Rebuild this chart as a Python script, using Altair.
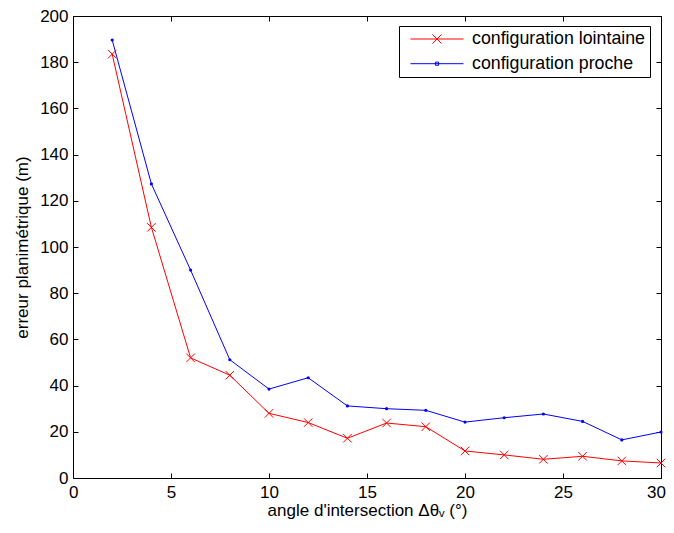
import altair as alt
import pandas as pd

# ---- data ----
angles = [2, 4, 6, 8, 10, 12, 14, 16, 18, 20, 22, 24, 26, 28, 30]
lointaine = [183.5, 108.5, 52.0, 44.5, 28.0, 24.0, 17.2, 23.8, 22.2, 11.7, 10.0, 8.1, 9.4, 7.4, 6.5]
proche = [189.6, 127.3, 90.0, 51.2, 38.5, 43.4, 31.2, 30.0, 29.3, 24.2, 26.1, 27.7, 24.5, 16.5, 19.9]
series_names = ["configuration lointaine", "configuration proche"]
series_colors = ["#ff0000", "#0000ff"]
x_ticks = [0, 5, 10, 15, 20, 25, 30]
y_ticks = [0, 20, 40, 60, 80, 100, 120, 140, 160, 180, 200]

rows = []
for a, v in zip(angles, lointaine):
    rows.append({"angle": a, "erreur": v, "serie": series_names[0]})
for a, v in zip(angles, proche):
    rows.append({"angle": a, "erreur": v, "serie": series_names[1]})
df = pd.DataFrame(rows)

FONT = "Liberation Sans"
FS = 17
CROSS = "M-1,-1L1,1M-1,1L1,-1"
LEG_CROSS = "M-1,0H1M-0.17,-0.17L0.17,0.17M-0.17,0.17L0.17,-0.17"
LEG_DOT = "M-1,0H1M-0.06,-0.06H0.06V0.06H-0.06Z"

xscale = alt.Scale(domain=[0, 30], nice=False, zero=False)
yscale = alt.Scale(domain=[0, 200], nice=False, zero=False)

ax_bottom = alt.Axis(orient="bottom", values=x_ticks, offset=-5, tickSize=5, domain=False,
                     grid=False, labelPadding=6, labelFlush=True, labelFlushOffset=4.5,
                     title="angle d'intersection Δθᵥ (°)", titlePadding=2)
ax_left = alt.Axis(orient="left", values=y_ticks, offset=-5, tickSize=5, domain=False,
                   grid=False, labelPadding=5, labelFlush=False,
                   title="erreur planimétrique (m)", titlePadding=8)
ax_top = alt.Axis(orient="top", values=x_ticks, offset=-5, tickSize=5, domain=False,
                  grid=False, labels=False, title=None)
ax_right = alt.Axis(orient="right", values=y_ticks, offset=-5, tickSize=5, domain=False,
                    grid=False, labels=False, title=None)

base = alt.Chart(df)
red = base.transform_filter(alt.datum.serie == series_names[0])
blue = base.transform_filter(alt.datum.serie == series_names[1])

red_line = red.mark_line(color=series_colors[0], strokeWidth=1).encode(
    x=alt.X("angle:Q", scale=xscale, axis=ax_bottom),
    y=alt.Y("erreur:Q", scale=yscale, axis=ax_left),
)
red_pts = red.mark_point(shape=CROSS, color=series_colors[0], size=72, strokeWidth=1,
                         filled=False, opacity=1).encode(
    x=alt.X("angle:Q", scale=xscale, axis=None),
    y=alt.Y("erreur:Q", scale=yscale, axis=None),
)
blue_line = blue.mark_line(color=series_colors[1], strokeWidth=1).encode(
    x=alt.X("angle:Q", scale=xscale, axis=ax_top),
    y=alt.Y("erreur:Q", scale=yscale, axis=ax_right),
)
blue_pts = blue.mark_point(shape="circle", color=series_colors[1], size=10,
                           filled=True, opacity=1).encode(
    x=alt.X("angle:Q", scale=xscale, axis=None),
    y=alt.Y("erreur:Q", scale=yscale, axis=None),
)

leg = dict(title=None, orient="none", legendX=326, legendY=10,
           strokeColor="black", fillColor="white",
           padding=4.5, rowPadding=5.7, clipHeight=17,
           symbolSize=2809, symbolStrokeWidth=1,
           symbolOffset=6.5, labelOffset=8, labelLimit=400,
           labelFont=FONT, labelFontSize=17.8,
           labelColor="black", cornerRadius=0)

legend_layer = base.transform_filter("false").mark_point(filled=False, strokeWidth=1, opacity=1).encode(
    color=alt.Color("serie:N",
                    scale=alt.Scale(domain=series_names, range=series_colors),
                    legend=alt.Legend(**leg)),
    shape=alt.Shape("serie:N",
                    scale=alt.Scale(domain=series_names, range=[LEG_CROSS, LEG_DOT]),
                    legend=alt.Legend(**leg)),
)

chart = alt.layer(red_line, blue_line, red_pts, blue_pts, legend_layer).resolve_axis(
    x="independent", y="independent"
).properties(
    width=588, height=462,
    padding={"left": 65, "top": 8, "right": 5, "bottom": 47},
    autosize=alt.AutoSizeParams(type="none"),
    background="white",
).configure_view(
    stroke="black", strokeWidth=1
).configure_axis(
    labelFont=FONT, labelFontSize=FS, labelColor="black",
    titleFont=FONT, titleFontSize=FS, titleColor="black", titleFontWeight="normal",
    tickColor="black", tickWidth=1,
)

chart.save("out.html", embed_options={"renderer": "svg", "actions": False})
